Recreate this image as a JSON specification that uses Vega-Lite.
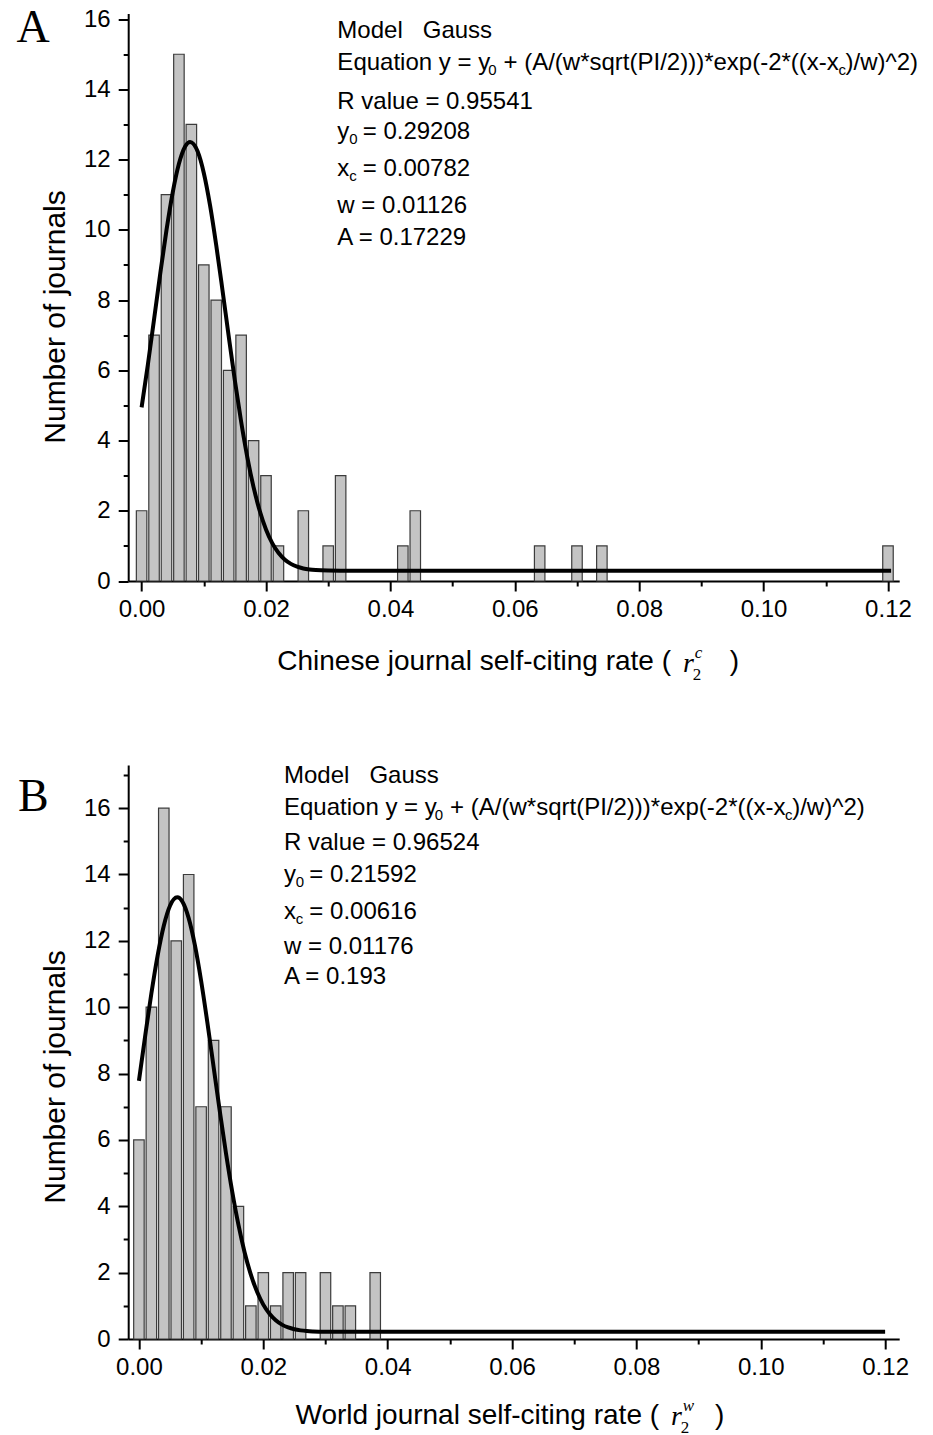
{
  "$schema": "https://vega.github.io/schema/vega-lite/v6.json",
  "autosize": {"type": "none"},
  "padding": {"left": 128.2, "top": 13.5, "right": 804.8, "bottom": 1421.5},
  "background": "white",
  "config": {
    "font": "Liberation Sans",
    "view": {"stroke": null},
    "axis": {"domainColor": "black", "domainWidth": 2, "tickColor": "black", "tickWidth": 2, "labelColor": "black", "labelFont": "Liberation Sans", "labelFontSize": 24, "titleFont": "Liberation Sans", "titleFontSize": 28, "titleFontWeight": "normal", "titleColor": "black", "grid": false}
  },
  "datasets": {
    "histA": [
      {"rate": 0.000, "journals": 2}, {"rate": 0.002, "journals": 7}, {"rate": 0.004, "journals": 11}, {"rate": 0.006, "journals": 15},
      {"rate": 0.008, "journals": 13}, {"rate": 0.010, "journals": 9}, {"rate": 0.012, "journals": 8}, {"rate": 0.014, "journals": 6},
      {"rate": 0.016, "journals": 7}, {"rate": 0.018, "journals": 4}, {"rate": 0.020, "journals": 3}, {"rate": 0.022, "journals": 1},
      {"rate": 0.026, "journals": 2}, {"rate": 0.030, "journals": 1}, {"rate": 0.032, "journals": 3}, {"rate": 0.042, "journals": 1},
      {"rate": 0.044, "journals": 2}, {"rate": 0.064, "journals": 1}, {"rate": 0.070, "journals": 1}, {"rate": 0.074, "journals": 1},
      {"rate": 0.120, "journals": 1}
    ],
    "fitA": [
      {"rate": 0.000, "journals": 4.945}, {"rate": 0.001, "journals": 6.153}, {"rate": 0.002, "journals": 7.447}, {"rate": 0.003, "journals": 8.754},
      {"rate": 0.004, "journals": 9.991}, {"rate": 0.005, "journals": 11.062}, {"rate": 0.006, "journals": 11.880}, {"rate": 0.007, "journals": 12.373},
      {"rate": 0.0078, "journals": 12.501}, {"rate": 0.009, "journals": 12.236}, {"rate": 0.010, "journals": 11.620}, {"rate": 0.011, "journals": 10.702},
      {"rate": 0.012, "journals": 9.560}, {"rate": 0.013, "journals": 8.289}, {"rate": 0.014, "journals": 6.977}, {"rate": 0.015, "journals": 5.705},
      {"rate": 0.016, "journals": 4.541}, {"rate": 0.017, "journals": 3.523}, {"rate": 0.018, "journals": 2.673}, {"rate": 0.019, "journals": 1.992},
      {"rate": 0.020, "journals": 1.468}, {"rate": 0.021, "journals": 1.080}, {"rate": 0.022, "journals": 0.804}, {"rate": 0.023, "journals": 0.614},
      {"rate": 0.024, "journals": 0.488}, {"rate": 0.025, "journals": 0.408}, {"rate": 0.026, "journals": 0.358}, {"rate": 0.027, "journals": 0.329},
      {"rate": 0.028, "journals": 0.312}, {"rate": 0.030, "journals": 0.297}, {"rate": 0.032, "journals": 0.293}, {"rate": 0.035, "journals": 0.292},
      {"rate": 0.1205, "journals": 0.292}
    ],
    "histB": [
      {"rate": 0.000, "journals": 6}, {"rate": 0.002, "journals": 10}, {"rate": 0.004, "journals": 16}, {"rate": 0.006, "journals": 12},
      {"rate": 0.008, "journals": 14}, {"rate": 0.010, "journals": 7}, {"rate": 0.012, "journals": 9}, {"rate": 0.014, "journals": 7},
      {"rate": 0.016, "journals": 4}, {"rate": 0.018, "journals": 1}, {"rate": 0.020, "journals": 2}, {"rate": 0.022, "journals": 1},
      {"rate": 0.024, "journals": 2}, {"rate": 0.026, "journals": 2}, {"rate": 0.030, "journals": 2}, {"rate": 0.032, "journals": 1},
      {"rate": 0.034, "journals": 1}, {"rate": 0.038, "journals": 2}
    ],
    "fitB": [
      {"rate": 0.000, "journals": 7.780}, {"rate": 0.001, "journals": 9.126}, {"rate": 0.002, "journals": 10.413}, {"rate": 0.003, "journals": 11.550},
      {"rate": 0.004, "journals": 12.456}, {"rate": 0.005, "journals": 13.058}, {"rate": 0.00616, "journals": 13.311}, {"rate": 0.007, "journals": 13.178},
      {"rate": 0.008, "journals": 12.685}, {"rate": 0.009, "journals": 11.869}, {"rate": 0.010, "journals": 10.797}, {"rate": 0.011, "journals": 9.549},
      {"rate": 0.012, "journals": 8.213}, {"rate": 0.013, "journals": 6.873}, {"rate": 0.014, "journals": 5.600}, {"rate": 0.015, "journals": 4.445},
      {"rate": 0.016, "journals": 3.445}, {"rate": 0.017, "journals": 2.610}, {"rate": 0.018, "journals": 1.941}, {"rate": 0.019, "journals": 1.423},
      {"rate": 0.020, "journals": 1.036}, {"rate": 0.021, "journals": 0.758}, {"rate": 0.022, "journals": 0.564}, {"rate": 0.023, "journals": 0.433},
      {"rate": 0.024, "journals": 0.347}, {"rate": 0.025, "journals": 0.293}, {"rate": 0.026, "journals": 0.260}, {"rate": 0.027, "journals": 0.240},
      {"rate": 0.028, "journals": 0.229}, {"rate": 0.030, "journals": 0.219}, {"rate": 0.032, "journals": 0.217}, {"rate": 0.035, "journals": 0.216},
      {"rate": 0.120, "journals": 0.216}
    ],
    "notesA": [
      {"kind": "tag", "rate": -0.01746, "journals": 15.76, "label": "A"},
      {"kind": "line", "rate": 0.031476, "journals": 15.66, "label": "Model\u00a0\u00a0 Gauss"},
      {"kind": "line", "rate": 0.031476, "journals": 14.75, "label": "Equation y = y\u00a0 + (A/(w*sqrt(PI/2)))*exp(-2*((x-x\u00a0)/w)^2)"},
      {"kind": "line", "rate": 0.031476, "journals": 13.64, "label": "R value = 0.95541"},
      {"kind": "line", "rate": 0.031476, "journals": 12.78, "label": "y\u00a0 = 0.29208"},
      {"kind": "line", "rate": 0.031476, "journals": 11.73, "label": "x\u00a0 = 0.00782"},
      {"kind": "line", "rate": 0.031476, "journals": 10.68, "label": "w = 0.01126"},
      {"kind": "line", "rate": 0.031476, "journals": 9.78, "label": "A = 0.17229"},
      {"kind": "sub", "rate": 0.05573, "journals": 14.55, "label": "0"},
      {"kind": "sub", "rate": 0.11203, "journals": 14.55, "label": "c"},
      {"kind": "sub", "rate": 0.03338, "journals": 12.58, "label": "0"},
      {"kind": "sub", "rate": 0.03338, "journals": 11.53, "label": "c"},
      {"kind": "axistitle", "rate": 0.08512, "journals": -2.306, "label": "Chinese journal self-citing rate ("},
      {"kind": "axistitle", "rate": 0.09608, "journals": -2.306, "label": ")"},
      {"kind": "symbol", "rate": 0.08703, "journals": -2.352, "label": "r"},
      {"kind": "superscript", "rate": 0.08894, "journals": -2.05, "label": "c"},
      {"kind": "subscript", "rate": 0.08862, "journals": -2.674, "label": "2"}
    ],
    "notesB": [
      {"kind": "tag", "rate": -0.01698, "journals": 16.35, "label": "B"},
      {"kind": "line", "rate": 0.023333, "journals": 16.98, "label": "Model\u00a0\u00a0 Gauss"},
      {"kind": "line", "rate": 0.023333, "journals": 15.99, "label": "Equation y = y\u00a0 + (A/(w*sqrt(PI/2)))*exp(-2*((x-x\u00a0)/w)^2)"},
      {"kind": "line", "rate": 0.023333, "journals": 14.96, "label": "R value = 0.96524"},
      {"kind": "line", "rate": 0.023333, "journals": 13.97, "label": "y\u00a0 = 0.21592"},
      {"kind": "line", "rate": 0.023333, "journals": 12.88, "label": "x\u00a0 = 0.00616"},
      {"kind": "line", "rate": 0.023333, "journals": 11.80, "label": "w = 0.01176"},
      {"kind": "line", "rate": 0.023333, "journals": 10.90, "label": "A = 0.193"},
      {"kind": "sub", "rate": 0.04759, "journals": 15.78, "label": "0"},
      {"kind": "sub", "rate": 0.10389, "journals": 15.78, "label": "c"},
      {"kind": "sub", "rate": 0.02524, "journals": 13.76, "label": "0"},
      {"kind": "sub", "rate": 0.02524, "journals": 12.67, "label": "c"},
      {"kind": "axistitle", "rate": 0.08365, "journals": -2.306, "label": "World journal self-citing rate ("},
      {"kind": "axistitle", "rate": 0.09413, "journals": -2.306, "label": ")"},
      {"kind": "symbol", "rate": 0.08556, "journals": -2.354, "label": "r"},
      {"kind": "superscript", "rate": 0.08746, "journals": -2.034, "label": "w"},
      {"kind": "subscript", "rate": 0.08714, "journals": -2.697, "label": "2"}
    ]
  },
  "bounds": "flush",
  "spacing": 183.5,
  "vconcat": [
    {
      "width": 771,
      "height": 567.5,
      "encoding": {
        "x": {"field": "rate", "type": "quantitative", "scale": {"domain": [-0.00135, 0.121], "nice": false, "zero": false},
          "axis": {"values": [0, 0.01, 0.02, 0.03, 0.04, 0.05, 0.06, 0.07, 0.08, 0.09, 0.1, 0.11, 0.12],
            "labelExpr": "round(datum.value*100) % 2 == 0 ? format(datum.value, '.2f') : ''",
            "tickSize": {"condition": {"test": "round(datum.value*100) % 2 == 0", "value": 10}, "value": 5},
            "labelPadding": 6, "title": null, "labelOverlap": false, "labelFlush": false}},
        "y": {"field": "journals", "type": "quantitative", "scale": {"domain": [0, 16.16], "nice": false},
          "axis": {"values": [0, 1, 2, 3, 4, 5, 6, 7, 8, 9, 10, 11, 12, 13, 14, 15, 16],
            "labelExpr": "datum.value % 2 == 0 ? datum.label : ''",
            "tickSize": {"condition": {"test": "datum.value % 2 == 0", "value": 10}, "value": 5},
            "labelPadding": 8, "labelOverlap": false, "title": "Number of journals", "titleFontSize": 30, "titleX": -73, "titleY": 303, "titleAlign": "center", "titleBaseline": "middle"}}
      },
      "layer": [
        {"data": {"name": "histA"}, "mark": {"type": "bar", "orient": "vertical", "size": 10.5, "fill": "#c4c4c4", "stroke": "#3c3c3c", "strokeWidth": 1.2}},
        {"data": {"name": "fitA"}, "mark": {"type": "line", "color": "black", "strokeWidth": 4, "interpolate": "monotone"}},
        {"data": {"name": "notesA"}, "transform": [{"filter": "datum.kind == 'line'"}], "mark": {"type": "text", "align": "left", "baseline": "middle", "fontSize": 24, "font": "Liberation Sans", "color": "black"}, "encoding": {"text": {"field": "label"}}},
        {"data": {"name": "notesA"}, "transform": [{"filter": "datum.kind == 'sub'"}], "mark": {"type": "text", "align": "left", "baseline": "middle", "fontSize": 15, "font": "Liberation Sans", "color": "black"}, "encoding": {"text": {"field": "label"}}},
        {"data": {"name": "notesA"}, "transform": [{"filter": "datum.kind == 'tag'"}], "mark": {"type": "text", "align": "center", "baseline": "middle", "fontSize": 46, "font": "Liberation Serif", "color": "black"}, "encoding": {"text": {"field": "label"}}},
        {"data": {"name": "notesA"}, "transform": [{"filter": "datum.kind == 'axistitle'"}], "mark": {"type": "text", "align": "right", "baseline": "middle", "fontSize": 28, "font": "Liberation Sans", "color": "black"}, "encoding": {"text": {"field": "label"}}},
        {"data": {"name": "notesA"}, "transform": [{"filter": "datum.kind == 'symbol'"}], "mark": {"type": "text", "align": "left", "baseline": "middle", "fontSize": 28, "font": "Liberation Serif", "fontStyle": "italic", "color": "black"}, "encoding": {"text": {"field": "label"}}},
        {"data": {"name": "notesA"}, "transform": [{"filter": "datum.kind == 'superscript'"}], "mark": {"type": "text", "align": "left", "baseline": "middle", "fontSize": 17, "font": "Liberation Serif", "fontStyle": "italic", "color": "black"}, "encoding": {"text": {"field": "label"}}},
        {"data": {"name": "notesA"}, "transform": [{"filter": "datum.kind == 'subscript'"}], "mark": {"type": "text", "align": "left", "baseline": "middle", "fontSize": 17, "font": "Liberation Serif", "color": "black"}, "encoding": {"text": {"field": "label"}}}
      ]
    },
    {
      "width": 771,
      "height": 574,
      "encoding": {
        "x": {"field": "rate", "type": "quantitative", "scale": {"domain": [-0.00092, 0.12146], "nice": false, "zero": false},
          "axis": {"values": [0, 0.01, 0.02, 0.03, 0.04, 0.05, 0.06, 0.07, 0.08, 0.09, 0.1, 0.11, 0.12],
            "labelExpr": "round(datum.value*100) % 2 == 0 ? format(datum.value, '.2f') : ''",
            "tickSize": {"condition": {"test": "round(datum.value*100) % 2 == 0", "value": 10}, "value": 5},
            "labelPadding": 6, "title": null, "labelOverlap": false, "labelFlush": false}},
        "y": {"field": "journals", "type": "quantitative", "scale": {"domain": [0, 17.3], "nice": false},
          "axis": {"values": [0, 1, 2, 3, 4, 5, 6, 7, 8, 9, 10, 11, 12, 13, 14, 15, 16, 17],
            "labelExpr": "datum.value % 2 == 0 ? datum.label : ''",
            "tickSize": {"condition": {"test": "datum.value % 2 == 0", "value": 10}, "value": 5},
            "labelPadding": 8, "labelOverlap": false, "title": "Number of journals", "titleFontSize": 30, "titleX": -73, "titleY": 311.5, "titleAlign": "center", "titleBaseline": "middle"}}
      },
      "layer": [
        {"data": {"name": "histB"}, "mark": {"type": "bar", "orient": "vertical", "size": 10.5, "fill": "#c4c4c4", "stroke": "#3c3c3c", "strokeWidth": 1.2}},
        {"data": {"name": "fitB"}, "mark": {"type": "line", "color": "black", "strokeWidth": 4, "interpolate": "monotone"}},
        {"data": {"name": "notesB"}, "transform": [{"filter": "datum.kind == 'line'"}], "mark": {"type": "text", "align": "left", "baseline": "middle", "fontSize": 24, "font": "Liberation Sans", "color": "black"}, "encoding": {"text": {"field": "label"}}},
        {"data": {"name": "notesB"}, "transform": [{"filter": "datum.kind == 'sub'"}], "mark": {"type": "text", "align": "left", "baseline": "middle", "fontSize": 15, "font": "Liberation Sans", "color": "black"}, "encoding": {"text": {"field": "label"}}},
        {"data": {"name": "notesB"}, "transform": [{"filter": "datum.kind == 'tag'"}], "mark": {"type": "text", "align": "center", "baseline": "middle", "fontSize": 46, "font": "Liberation Serif", "color": "black"}, "encoding": {"text": {"field": "label"}}},
        {"data": {"name": "notesB"}, "transform": [{"filter": "datum.kind == 'axistitle'"}], "mark": {"type": "text", "align": "right", "baseline": "middle", "fontSize": 28, "font": "Liberation Sans", "color": "black"}, "encoding": {"text": {"field": "label"}}},
        {"data": {"name": "notesB"}, "transform": [{"filter": "datum.kind == 'symbol'"}], "mark": {"type": "text", "align": "left", "baseline": "middle", "fontSize": 28, "font": "Liberation Serif", "fontStyle": "italic", "color": "black"}, "encoding": {"text": {"field": "label"}}},
        {"data": {"name": "notesB"}, "transform": [{"filter": "datum.kind == 'superscript'"}], "mark": {"type": "text", "align": "left", "baseline": "middle", "fontSize": 17, "font": "Liberation Serif", "fontStyle": "italic", "color": "black"}, "encoding": {"text": {"field": "label"}}},
        {"data": {"name": "notesB"}, "transform": [{"filter": "datum.kind == 'subscript'"}], "mark": {"type": "text", "align": "left", "baseline": "middle", "fontSize": 17, "font": "Liberation Serif", "color": "black"}, "encoding": {"text": {"field": "label"}}}
      ]
    }
  ]
}
